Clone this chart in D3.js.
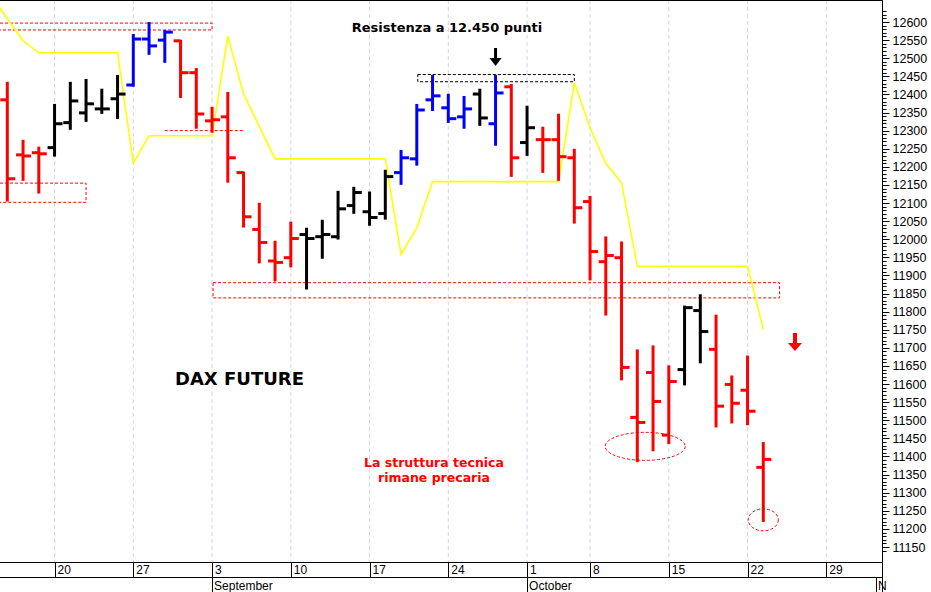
<!DOCTYPE html>
<html>
<head>
<meta charset="utf-8">
<script src="https://cdn.jsdelivr.net/npm/d3@7"></script>
<style>
  body { margin: 0; background: #fff; }
  svg { display: block; font-family: "Liberation Sans", Arial, sans-serif; }
</style>
</head>
<body>
<svg id="chart" width="931" height="592"></svg>
<script>
// daily bars, index 0 = 15 Aug 2018 (trading days only, 3 Oct holiday skipped)
const highs  = [12432,12272,12253,12371,12432,12440,12413,12451,12564,12597,12575,12548,12470,12363,12404,12184,12098,11993,12046,12029,12051,12131,12142,12129,12189,12244,12371,12451,12399,12393,12413,12451,12426,12366,12308,12344,12247,12117,12005,11991,11693,11704,11649,11814,11845,11789,11621,11676,11437]
const lows   = [12107,12164,12129,12231,12305,12327,12349,12335,12424,12512,12490,12393,12308,12297,12159,12035,11936,11886,11925,11864,11949,12002,12073,12040,12057,12153,12206,12357,12324,12308,12316,12261,12175,12233,12186,12164,12046,11889,11792,11613,11387,11417,11437,11599,11660,11483,11494,11489,11222]
const opens  = [12385,12233,12239,12253,12322,12349,12360,12388,12426,12553,12550,12548,12460,12327,12338,12184,12027,11940,11949,12013,12007,12007,12093,12076,12071,12184,12222,12385,12363,12338,12401,12319,12421,12267,12275,12275,12225,12104,11938,11949,11508,11632,11459,11640,11803,11696,11599,11583,11370]
const closes = [12167,12230,12236,12319,12382,12374,12360,12401,12553,12534,12572,12460,12346,12330,12225,12062,11991,11936,12002,12002,12013,12084,12129,12060,12173,12225,12357,12396,12333,12360,12335,12404,12225,12308,12275,12228,12087,11966,11955,11646,11494,11552,11607,11811,11745,11539,11547,11525,11392]
const colors = ['r','r','r','k','k','k','k','k','b','b','b','r','r','r','r','r','r','r','r','k','k','k','k','k','k','b','b','b','b','b','k','b','r','k','r','r','r','r','r','r','r','r','r','k','k','r','r','r','r']

// yellow stop line vertices (bar index, level)
const stopIdx = [-0.5,1,2,7,8,9,13,14,15,17,24,25,26,27,35,36,37,38,39,40,47,48]
const stopVal = [12640,12548,12515,12515,12211,12286,12286,12561,12401,12222,12222,11958,12032,12159,12159,12432,12308,12209,12156,11925,11925,11751]

// week ticks (bar index, label) and months
const weekIdx = [3,8,13,18,23,28,33,37,42,47,52]
const weekLbl = ['20','27','3','10','17','24','1','8','15','22','29']
const monthIdx = [13,33,55.15]
const monthLbl = ['September','October','N']

const yTicks = d3.range(11150, 12601, 50)

const palette = { r: '#ff0000', k: '#000000', b: '#0000ff' }
const W = 882, H = 562

const svg = d3.select('#chart')
const x = d3.scaleLinear().domain([0, 48]).range([7.3, 7.3 + 15.75 * 48])
const y = d3.scaleLinear().domain([11150, 12600]).range([547, 22])

const plot = svg.append('g')
svg.append('defs').append('clipPath').attr('id', 'clip')
  .append('rect').attr('width', W).attr('height', H)
plot.attr('clip-path', 'url(#clip)')

// grid
plot.selectAll('.grid').data(weekIdx).join('line')
  .attr('x1', d => x(d)).attr('x2', d => x(d)).attr('y1', 0).attr('y2', H)
  .attr('stroke', '#d4d4f0').attr('stroke-dasharray', '4,3')

// boxes
const dashed = (x0, y0, x1, y1, c) => plot.append('rect')
  .attr('x', x0).attr('y', y0).attr('width', x1 - x0).attr('height', y1 - y0)
  .attr('fill', 'none').attr('stroke', c).attr('stroke-dasharray', '3,2')
dashed(-5, y(12597), x(13), y(12578), '#ff0000')
dashed(-5, y(12155), x(5), y(12102), '#ff0000')
dashed(x(13) + 1, y(11880), x(49) + 0.5, y(11838), '#ff0000')
dashed(x(26) + 1, y(12455), x(36), y(12435), '#000000')
plot.append('line').attr('x1', x(10)).attr('x2', x(15)).attr('y1', y(12300)).attr('y2', y(12300))
  .attr('stroke', '#ff0000').attr('stroke-dasharray', '3,2')

// yellow line
plot.append('path').datum(stopIdx.map((d, i) => [d, stopVal[i]]))
  .attr('d', d3.line().x(d => x(d[0])).y(d => y(d[1])))
  .attr('fill', 'none').attr('stroke', '#ffff00').attr('stroke-width', 1.6)

// OHLC bars
const bars = plot.selectAll('.bar').data(highs.map((h, i) => i)).join('g')
  .attr('stroke', i => palette[colors[i]]).attr('stroke-width', 3)
bars.append('line').attr('x1', i => x(i)).attr('x2', i => x(i))
  .attr('y1', i => y(highs[i]) - 1).attr('y2', i => y(lows[i]) + 1)
bars.append('line').attr('x1', i => x(i) - 7).attr('x2', i => x(i))
  .attr('y1', i => y(opens[i])).attr('y2', i => y(opens[i]))
bars.append('line').attr('x1', i => x(i)).attr('x2', i => x(i) + 8)
  .attr('y1', i => y(closes[i])).attr('y2', i => y(closes[i]))

// ellipses
plot.append('ellipse').attr('cx', x(40.5)).attr('cy', y(11428)).attr('rx', 40).attr('ry', 14)
  .attr('fill', 'none').attr('stroke', '#ff0000').attr('stroke-dasharray', '3,2')
plot.append('ellipse').attr('cx', x(48)).attr('cy', y(11225)).attr('rx', 15).attr('ry', 11)
  .attr('fill', 'none').attr('stroke', '#ff0000').attr('stroke-dasharray', '3,2')

// arrows
const arrow = (cx, top, len, c, hw, sw) => {
  plot.append('line').attr('x1', cx).attr('x2', cx).attr('y1', top).attr('y2', top + len - 6)
    .attr('stroke', c).attr('stroke-width', sw)
  plot.append('path').attr('d', `M${cx - hw},${top + len - 8}L${cx + hw},${top + len - 8}L${cx},${top + len}Z`)
    .attr('fill', c)
}
arrow(x(31), 48, 18, '#000', 6, 3)
arrow(795, 333, 18, '#ff0000', 7, 4)

// texts
const txt = (t, tx, ty, size, c, anchor) => svg.append('text').text(t)
  .attr('x', tx).attr('y', ty).attr('font-size', size).attr('font-weight', 'bold')
  .attr('fill', c).attr('text-anchor', anchor || 'middle')
  .attr('font-family', '"DejaVu Sans", Verdana, sans-serif')
txt('Resistenza a 12.450 punti', 447, 32, 13, '#000')
txt('DAX FUTURE', 175, 385, 18, '#000', 'start')
txt('La struttura tecnica', 434, 467, 12.5, '#ff0000')
txt('rimane precaria', 434, 482, 12.5, '#ff0000')

// frame
svg.append('line').attr('x1', 0).attr('x2', W).attr('y1', 0.5).attr('y2', 0.5).attr('stroke', '#000')

// right axis
const ax = svg.append('g').attr('transform', `translate(${W + 0.5},0)`)
ax.append('line').attr('y1', 0).attr('y2', H).attr('stroke', '#000')
ax.selectAll('.minor').data(d3.range(11140, 12640, 10)).join('line')
  .attr('x2', 4).attr('y1', d => Math.round(y(d)) + 0.5).attr('y2', d => Math.round(y(d)) + 0.5).attr('stroke', '#000')
ax.selectAll('.major').data(yTicks).join('line')
  .attr('x2', 7).attr('y1', d => Math.round(y(d)) + 0.5).attr('y2', d => Math.round(y(d)) + 0.5).attr('stroke', '#000')
ax.selectAll('.lbl').data(yTicks).join('text')
  .attr('x', 10).attr('y', d => y(d) + 4.5).attr('font-size', 12.5).text(d => d)

// bottom axis
const bx = svg.append('g')
bx.append('line').attr('x1', 0).attr('x2', W + 1).attr('y1', H + 0.5).attr('y2', H + 0.5).attr('stroke', '#000')
bx.append('line').attr('x1', 0).attr('x2', W + 1).attr('y1', 577.5).attr('y2', 577.5).attr('stroke', '#000')
bx.selectAll('.wk').data(weekIdx).join('line')
  .attr('x1', d => Math.round(x(d)) + 0.5).attr('x2', d => Math.round(x(d)) + 0.5)
  .attr('y1', H).attr('y2', 577).attr('stroke', '#000')
bx.selectAll('.wkl').data(weekIdx).join('text')
  .attr('x', d => x(d) + 3).attr('y', 574).attr('font-size', 12).text((d, i) => weekLbl[i])
bx.selectAll('.mo').data(monthIdx).join('line')
  .attr('x1', d => Math.round(x(d)) + 0.5).attr('x2', d => Math.round(x(d)) + 0.5)
  .attr('y1', 577).attr('y2', 592).attr('stroke', '#000')
bx.selectAll('.mol').data(monthIdx).join('text')
  .attr('x', d => x(d) + 2).attr('y', 590).attr('font-size', 12).text((d, i) => monthLbl[i])
bx.append('line').attr('x1', W + 0.5).attr('x2', W + 0.5).attr('y1', H).attr('y2', 592).attr('stroke', '#000')
</script>
</body>
</html>
